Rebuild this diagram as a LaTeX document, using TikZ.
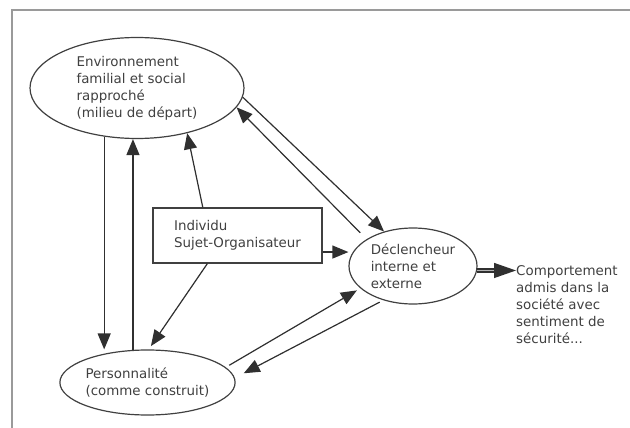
\documentclass[tikz,border=0pt]{standalone}
\usepackage{fontspec}
\setmainfont{DejaVu Sans}
\usetikzlibrary{arrows.meta,positioning,shapes.geometric}

\definecolor{inkgray}{HTML}{404040}
\definecolor{linegray}{HTML}{303030}
\definecolor{framegray}{HTML}{9A9A9A}

\begin{document}
\begin{tikzpicture}[
          x=1pt, y=-1pt,
          font=\fontsize{13.4}{17}\selectfont,
          every node/.style={text=inkgray},
          oval/.style={ellipse, draw=inkgray, line width=1.2pt, inner sep=0pt, align=left},
          box/.style={draw=inkgray, line width=1.2pt, align=left, minimum width=169pt, minimum height=55pt},
          arr/.style={-{Triangle[length=16pt, width=13pt]}, line width=1.2pt, draw=linegray, fill=linegray},
          dbl/.style={-{Triangle[length=22pt, width=15pt]}, line width=1.4pt, draw=linegray, double=gray!60, double distance=1.6pt}
        ]
        \useasboundingbox (0,0) rectangle (630,428);
        \draw[framegray, line width=2pt] (630,10) -| (12,428);

        \node[oval, minimum width=214pt, minimum height=101pt] (env) at (137,88)
          {Environnement\\familial et social\\rapproché\\(milieu de départ)};
        \node[box] (ind) at (237.5,235.5) {Individu\\Sujet-Organisateur};
        \node[oval, minimum width=128pt, minimum height=76pt] (decl) at (413,266)
          {Déclencheur\\interne et\\externe};
        \node[oval, minimum width=174pt, minimum height=65pt] (pers) at (147.5,382.5)
          {Personnalité\\(comme construit)};
        \node[align=left, inner sep=0pt, anchor=north west] (comp) at (516,265)
          {Comportement\\admis dans la\\société avec\\sentiment de\\sécurité...};

        \draw[arr] (env.-124.7) -- (env.-124.7 |- pers.north);
        \draw[arr] (pers.114) -- (pers.114 |- env.south);
        \draw[arr] (ind.141.4) -- (env.-42);
        \draw[arr] (env.-5) -- (decl.130.5);
        \draw[arr, shorten <=9pt] (decl.150) -- (env.-11);
        \draw[arr] (ind.-11.7) -- (ind.-11.7 -| decl.west);
        \draw[arr, shorten >=4pt] (ind.-137) -- (pers.88);
        \draw[arr, shorten <=4pt, shorten >=4pt] (pers.11) -- (decl.-157);
        \draw[arr, shorten <=4pt, shorten >=10pt] (decl.-131) -- (pers.3);
        \draw[dbl] (decl.-4) -- (decl.-4 -| comp.west);
      \end{tikzpicture}
\end{document}
